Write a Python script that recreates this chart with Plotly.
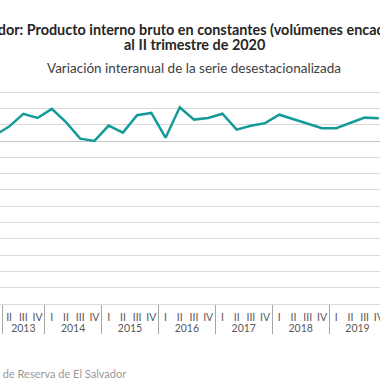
import plotly.graph_objects as go

years = ["2013"] * 4 + ["2014"] * 4 + ["2015"] * 4 + ["2016"] * 4 + ["2017"] * 4 + ["2018"] * 4 + ["2019"] * 4
quarters = ["I", "II", "III", "IV"] * 7
growth = [0.36, 0.89, 1.67, 1.42,
          1.98, 1.16, 0.15, 0.01,
          0.95, 0.52, 1.59, 1.73,
          0.21, 2.08, 1.32, 1.42,
          1.68, 0.70, 0.94, 1.10,
          1.62, 1.34, 1.07, 0.79,
          0.79, 1.10, 1.44, 1.40]

title1 = "El Salvador: Producto interno bruto en constantes (volúmenes encadenados)"
title2 = "al II trimestre de 2020"
subtitle = "Variación interanual de la serie desestacionalizada"
source = "Fuente: Banco Central de Reserva de El Salvador"

FONT = "Lato"
PH = 224.0  # plot height in px

fig = go.Figure()
fig.add_trace(go.Scatter(x=[years, quarters], y=growth, mode="lines",
                         line=dict(color="#149a99", width=2.5), showlegend=False))

fig.update_layout(
    width=380, height=380,
    margin=dict(l=0, r=0, t=80, b=76, pad=0),
    paper_bgcolor="white", plot_bgcolor="white",
    font=dict(family=FONT, color="#595959"),
    xaxis=dict(type="multicategory", range=[0.359, 27.08], automargin=False,
               showgrid=False, showline=True, linecolor="#d9d9d9", linewidth=1,
               showdividers=True, dividercolor="#a6a6a6", dividerwidth=1,
               tickangle=0, tickfont=dict(size=10.5, color="#595959"),
               ticks="", ticklabelstandoff=3),
    yaxis=dict(range=[-10, 3.75], dtick=1, automargin=False,
               showgrid=True, gridcolor="#d9d9d9", gridwidth=1,
               zeroline=True, zerolinecolor="#c4c4c4", zerolinewidth=1.3,
               showticklabels=False, showline=False, ticks=""),
)

def ypx(py):
    return 1 + (80 - py) / PH

fig.add_annotation(text="<b>" + title1 + "</b>", xref="paper", yref="paper", x=191.5 / 380, y=ypx(29),
                   xanchor="center", yanchor="middle", showarrow=False,
                   font=dict(family=FONT, size=14.4, color="#262626"))
fig.add_annotation(text="<b>" + title2 + "</b>", xref="paper", yref="paper", x=194 / 380, y=ypx(44.5),
                   xanchor="center", yanchor="middle", showarrow=False,
                   font=dict(family=FONT, size=14.4, color="#262626"))
fig.add_annotation(text=subtitle, xref="paper", yref="paper", x=194 / 380, y=ypx(68),
                   xanchor="center", yanchor="middle", showarrow=False,
                   font=dict(family=FONT, size=13.5, color="#404040"))
fig.add_annotation(text=source, xref="paper", yref="paper", x=128 / 380, y=ypx(373),
                   xanchor="right", yanchor="middle", showarrow=False,
                   font=dict(family=FONT, size=11, color="#9a9a9a"))

fig.write_html("out.html", config={"displayModeBar": False},
               post_script="document.body.style.margin='0';document.body.style.overflow='hidden';")
